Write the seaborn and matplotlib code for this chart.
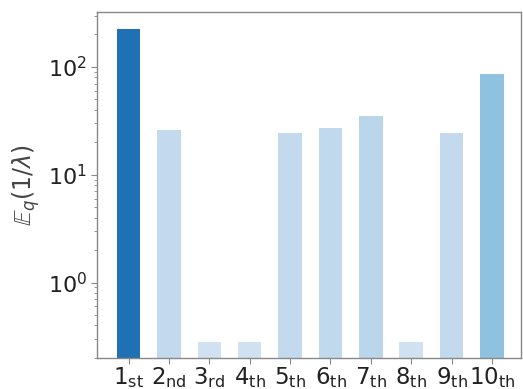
import numpy as np
import pandas as pd
import matplotlib
matplotlib.use("Agg")
import matplotlib.pyplot as plt
import seaborn as sns

# Component labels and expected inverse precision
labels = [r"$1_{\rm st}$", r"$2_{\rm nd}$", r"$3_{\rm rd}$", r"$4_{\rm th}$", r"$5_{\rm th}$",
          r"$6_{\rm th}$", r"$7_{\rm th}$", r"$8_{\rm th}$", r"$9_{\rm th}$", r"$10_{\rm th}$"]
values = [225, 26, 0.28, 0.28, 24.5, 27, 35, 0.28, 24.3, 86]

# colour each bar by its value (Blues, light -> dark)
cmap = plt.get_cmap("Blues")
vmax = max(values)
colors = [cmap(0.2 + 0.55 * v / vmax) for v in values]

df = pd.DataFrame({"comp": labels, "val": values})

plt.rcParams["mathtext.fontset"] = "dejavusans"
fig = plt.figure(figsize=(5.23, 3.89), dpi=100)
ax = fig.add_axes([0.186, 0.080, 0.810, 0.889])

sns.barplot(data=df, x="comp", y="val", hue="comp", palette=colors,
            legend=False, width=0.58, saturation=1, ax=ax)
ax.set_yscale("log")
ax.set_ylim(0.2, 323)
ax.set_xlim(-0.78, 9.72)

ax.set_xlabel("")
ax.set_ylabel(r"$\mathbb{E}_q(1/\lambda)$", fontsize=17, color="#444444")
ax.tick_params(axis="x", labelsize=16.5, length=4, pad=1.5, color="#888888", labelcolor="#222222")
ax.tick_params(axis="y", which="major", labelsize=16, length=4, color="#888888", labelcolor="#222222")
ax.tick_params(axis="y", which="minor", length=2, color="#888888")
for sp in ax.spines.values():
    sp.set_color("#888888")
    sp.set_linewidth(1.0)

fig.savefig("out.png", dpi=100)
